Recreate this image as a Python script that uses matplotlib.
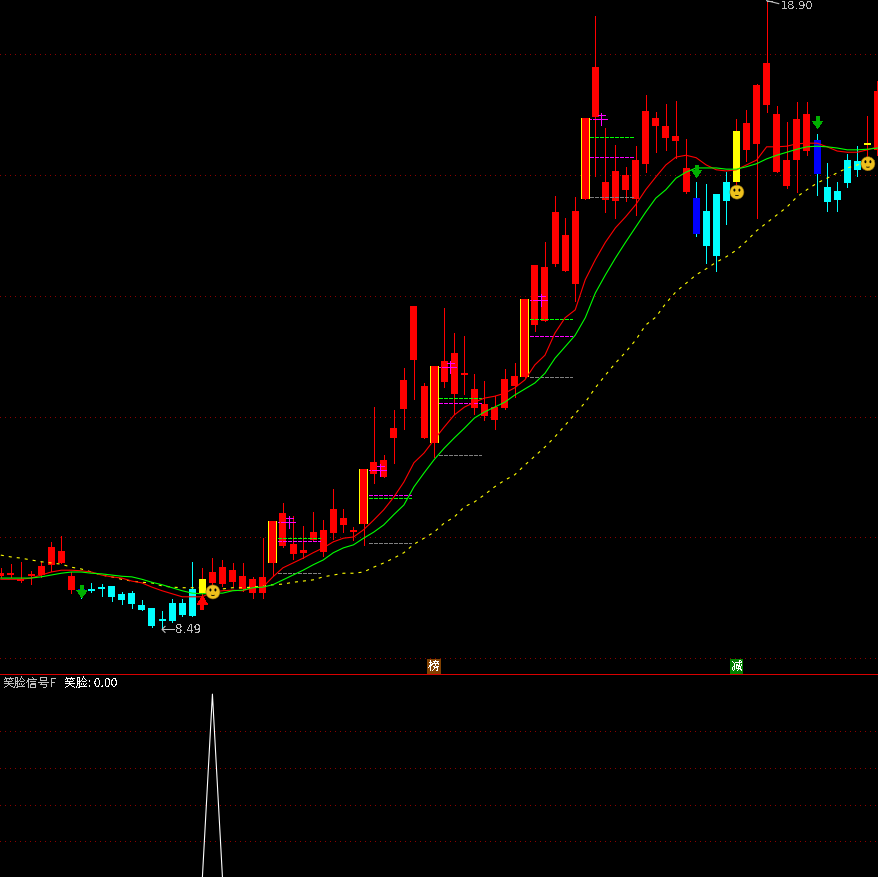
import matplotlib
matplotlib.use("Agg")
import matplotlib.pyplot as plt
from matplotlib.patches import Arc, Ellipse
import numpy as np

plt.rcParams["font.family"] = ["Noto Sans CJK SC", "DejaVu Sans"]
plt.rcParams["text.antialiased"] = False
plt.rcParams["lines.scale_dashes"] = False

# ── Data ───────────────────────────────────────────────────────────────────────

highs = [9.51, 9.57, 9.61, 9.45, 9.61, 9.94, 10.04, 9.44, 9.23, 9.26, 9.24, 9.21,
         9.11, 9.13, 8.98, 8.85, 8.79, 8.99, 8.99, 9.61, 9.51, 9.67, 9.64, 9.59,
         9.59, 9.36, 10.00, 10.29, 10.58, 10.37, 10.20, 10.43, 10.30, 10.81, 10.48, 10.19,
         11.15, 12.17, 11.38, 12.12, 12.82, 13.84, 12.57, 12.85, 13.81, 13.40, 13.35, 12.72,
         12.60, 12.35, 12.80, 12.90, 13.96, 14.52, 14.90, 15.67, 15.30, 15.65, 16.96, 18.65,
         16.79, 16.51, 16.15, 16.49, 17.34, 17.06, 17.19, 17.24, 16.61, 15.90, 15.86, 15.70,
         16.06, 16.94, 17.09, 17.52, 18.90, 17.16, 16.89, 17.22, 17.22, 16.69, 16.21, 15.90,
         16.36, 16.49, 16.99, 17.57]
lows = [9.36, 9.36, 9.27, 9.24, 9.36, 9.46, 9.59, 9.09, 9.01, 9.11, 9.04, 8.96,
        8.91, 8.85, 8.81, 8.53, 8.49, 8.61, 8.71, 8.71, 9.06, 9.14, 9.21, 9.21,
        9.13, 9.01, 9.01, 9.39, 9.85, 9.66, 9.67, 9.97, 9.71, 9.99, 10.10, 9.97,
        9.89, 10.91, 11.01, 11.25, 11.81, 12.31, 11.66, 11.34, 12.50, 12.06, 12.39, 12.06,
        11.96, 11.81, 12.14, 12.34, 12.67, 13.43, 13.60, 14.51, 14.42, 13.93, 15.62, 16.00,
        15.40, 15.30, 15.58, 15.35, 16.06, 16.39, 16.43, 16.30, 15.71, 15.00, 14.56, 14.42,
        15.20, 15.86, 16.25, 15.30, 17.06, 16.06, 15.80, 15.73, 16.34, 15.68, 15.42, 15.42,
        15.81, 16.00, 16.10, 16.34]
body_tops = [9.42, 9.41, 9.32, 9.39, 9.54, 9.85, 9.79, 9.37, 9.16, 9.16, 9.19, 9.21,
             9.08, 9.09, 8.89, 8.85, 8.66, 8.93, 8.93, 9.16, 9.32, 9.44, 9.52, 9.47,
             9.37, 9.32, 9.36, 10.29, 10.42, 9.90, 9.81, 10.10, 10.14, 10.48, 10.33, 10.14,
             11.15, 11.26, 11.30, 11.82, 12.62, 13.84, 12.52, 12.85, 12.93, 13.07, 12.73, 12.47,
             12.22, 12.17, 12.64, 12.69, 13.96, 14.52, 14.49, 15.40, 15.02, 15.42, 16.96, 17.80,
             15.90, 16.08, 16.01, 16.26, 17.07, 16.96, 16.83, 16.66, 16.13, 15.63, 15.42, 15.70,
             15.90, 16.74, 16.87, 17.50, 17.87, 17.02, 16.26, 16.94, 17.02, 16.59, 15.81, 15.75,
             16.26, 16.25, 16.54, 17.40]
body_bottoms = [9.37, 9.39, 9.29, 9.37, 9.39, 9.56, 9.59, 9.14, 9.11, 9.13, 9.16, 9.03,
                8.98, 8.91, 8.81, 8.55, 8.63, 8.63, 8.73, 8.71, 9.09, 9.26, 9.24, 9.27,
                9.16, 9.09, 9.09, 9.59, 9.87, 9.74, 9.76, 9.97, 9.77, 10.09, 10.22, 10.10,
                10.24, 11.06, 11.01, 11.66, 12.14, 12.95, 11.66, 11.58, 12.59, 12.39, 12.70, 12.16,
                12.02, 11.96, 12.16, 12.52, 12.67, 13.53, 13.60, 14.54, 14.42, 14.21, 15.62, 16.97,
                15.60, 15.58, 15.77, 15.62, 16.20, 16.83, 16.63, 16.58, 15.73, 15.04, 14.84, 14.67,
                15.58, 15.90, 16.43, 16.53, 17.17, 16.06, 15.83, 16.26, 16.41, 16.03, 15.57, 15.60,
                15.88, 16.10, 16.51, 16.43]

# r red, c cyan, b blue, y yellow, e red with yellow edges
bar_kinds = list("rrrrrrrrbcccccccccccyrrrrrrerrrrrrrrerrrrrrerrrrrrrrerrrrrerrrrrrrrrrbcccyrrrrrrrbccccyr")

ma_fast = [9.32, 9.32, 9.32, 9.34, 9.39, 9.44, 9.47, 9.47, 9.46, 9.44, 9.39, 9.36,
           9.34, 9.29, 9.26, 9.19, 9.13, 9.08, 9.03, 9.03, 9.03, 9.11, 9.13, 9.14,
           9.13, 9.18, 9.19, 9.36, 9.51, 9.59, 9.67, 9.76, 9.84, 9.94, 10.00, 10.02,
           10.14, 10.30, 10.47, 10.68, 10.93, 11.25, 11.41, 11.63, 11.84, 12.04, 12.17, 12.25,
           12.32, 12.35, 12.40, 12.49, 12.62, 12.87, 13.03, 13.40, 13.65, 13.78, 14.28, 14.61,
           14.90, 15.14, 15.32, 15.52, 15.77, 15.98, 16.18, 16.31, 16.34, 16.30, 16.18, 16.10,
           16.08, 16.10, 16.18, 16.26, 16.48, 16.48, 16.49, 16.53, 16.54, 16.54, 16.48, 16.41,
           16.39, 16.39, 16.43, 16.48]
ma_mid = [9.34, 9.34, 9.34, 9.34, 9.36, 9.39, 9.42, 9.44, 9.44, 9.42, 9.41, 9.39,
          9.37, 9.36, 9.32, 9.27, 9.23, 9.18, 9.13, 9.09, 9.08, 9.09, 9.09, 9.13,
          9.14, 9.18, 9.19, 9.23, 9.31, 9.39, 9.47, 9.56, 9.64, 9.76, 9.84, 9.89,
          10.00, 10.10, 10.22, 10.39, 10.55, 10.85, 11.08, 11.30, 11.49, 11.66, 11.82, 11.99,
          12.09, 12.17, 12.25, 12.37, 12.47, 12.57, 12.73, 12.98, 13.17, 13.36, 13.65, 14.06,
          14.36, 14.64, 14.90, 15.15, 15.40, 15.63, 15.77, 15.96, 16.06, 16.13, 16.13, 16.13,
          16.11, 16.11, 16.15, 16.20, 16.28, 16.34, 16.39, 16.44, 16.48, 16.49, 16.48, 16.46,
          16.43, 16.43, 16.44, 16.46]
ma_slow = [9.72, 9.69, 9.67, 9.64, 9.61, 9.59, 9.57, 9.52, 9.49, 9.44, 9.39, 9.36,
           9.32, 9.29, 9.27, 9.26, 9.21, 9.19, 9.18, 9.18, 9.18, 9.16, 9.16, 9.18,
           9.18, 9.19, 9.21, 9.23, 9.24, 9.27, 9.29, 9.31, 9.36, 9.39, 9.42, 9.42,
           9.44, 9.52, 9.59, 9.67, 9.76, 9.90, 10.00, 10.10, 10.25, 10.35, 10.52, 10.60,
           10.72, 10.85, 10.96, 11.05, 11.21, 11.36, 11.51, 11.68, 11.87, 12.06, 12.25, 12.49,
           12.70, 12.90, 13.08, 13.28, 13.53, 13.66, 13.89, 14.08, 14.22, 14.36, 14.46, 14.57,
           14.66, 14.77, 14.92, 15.09, 15.22, 15.35, 15.48, 15.65, 15.77, 15.88, 15.96, 16.05,
           16.13, 16.18, 16.23, 16.26]

signal_bars = [27, 36, 43, 52, 58]
signal_green = [10.01, 10.67, 12.32, 13.63, 16.64]
signal_magenta = [9.95, 10.71, 12.24, 13.35, 16.31]
signal_gray = [9.42, 9.92, 11.38, 12.67, 15.65]

down_arrow_bars = [8, 69, 81]
down_arrow_tips = [9.02, 15.98, 16.79]
up_arrow_bars = [20]
up_arrow_tips = [9.04]
smile_bars = [21, 73, 86]
smile_prices = [9.11, 15.73, 16.20]
smile_signal = [0.0] * 88
smile_signal[21] = 1.0

low_label = "8.49"
high_label = "18.90"
grid_prices = [8, 10, 12, 14, 16, 18]
grid_signal = [0.2, 0.4, 0.6, 0.8]

# ── Layout ─────────────────────────────────────────────────────────────────────

W, H, SPLIT = 879, 877, 675
BAR_PX = 10.077
PRICE_PX = 60.4
DX = 1 / BAR_PX
DY = 1 / PRICE_PX
LW = 0.5        # straight lines, drawn without antialiasing
LW_CURVE = 0.8  # sloped lines, antialiased (aliased ones come out 2px thick)
GRID = "#8c0000"

RED, CYAN, BLUE, YELLOW = "#ff0000", "#00ffff", "#0000ff", "#ffff00"
SEG_DASH = (0, (2.2, 1.4))


def hline(ax, x0, x1, y, color, style="-", z=3):
    ax.plot([x0, x1], [y, y], color=color, lw=LW, ls=style, antialiased=False, zorder=z)


def draw_candles(ax):
    for i, kind in enumerate(bar_kinds):
        wick = CYAN if kind in "cb" else RED
        ax.vlines(i, lows[i], highs[i], color=wick, lw=LW, antialiased=False, zorder=2)
        top, bottom = body_tops[i], body_bottoms[i]
        height = max(top - bottom, 2 * DY)
        if kind == "e":
            ax.bar(i, height, bottom=bottom, width=9 * DX, color=YELLOW, lw=0,
                   antialiased=False, zorder=2)
            ax.bar(i, height, bottom=bottom, width=7 * DX, color=RED, lw=0,
                   antialiased=False, zorder=2)
        else:
            fill = {"r": RED, "c": CYAN, "b": BLUE, "y": YELLOW}[kind]
            ax.bar(i, height, bottom=bottom, width=7 * DX, color=fill, lw=0,
                   antialiased=False, zorder=2)


def draw_signals(ax):
    for k, green, magenta, gray, top in zip(signal_bars, signal_green, signal_magenta, signal_gray,
                                            [body_tops[b] for b in signal_bars]):
        x0, x1 = k + 5 * DX, k + 4.7
        hline(ax, x0, x1, green, "#00ff00", SEG_DASH)
        hline(ax, x0, x1, magenta, "#ff00ff", SEG_DASH)
        hline(ax, x0, x1, gray, "#808080", SEG_DASH)
        # little magenta cross next to the bar top
        cx, cy = k + 1.6, top - 1.3 * DY
        hline(ax, k + 5 * DX, cx - 6 * DX, cy, "#ff00ff", (0, (1.4, 0.8)), 5)
        hline(ax, cx - 6 * DX, cx + 6 * DX, cy, "#ff00ff", z=5)
        hline(ax, cx - 3 * DX, cx + 4 * DX, cy + 4 * DY, "#ff00ff", z=5)
        ax.vlines(cx, cy - 6 * DY, cy + 6 * DY, color="#ff00ff", lw=LW, antialiased=False, zorder=5)


def draw_arrows(ax):
    for k, tip in zip(down_arrow_bars, down_arrow_tips):
        xs = np.array([0, -5, -1.5, -1.5, 1.5, 1.5, 5]) * DX + k + 0.05
        ys = np.array([0, 7, 7, 12, 12, 7, 7]) * DY + tip
        ax.fill(xs, ys, color="#00b000", lw=0, antialiased=False, zorder=6)
    for k, tip in zip(up_arrow_bars, up_arrow_tips):
        xs = np.array([0, -5, -1.5, -1.5, 1.5, 1.5, 5]) * DX + k
        ys = tip - np.array([0, 8, 8, 13, 13, 8, 8]) * DY
        ax.fill(xs, ys, color="#ff0000", lw=0, antialiased=False, zorder=6)


def draw_smiles(ax):
    for k, price in zip(smile_bars, smile_prices):
        ax.add_patch(Ellipse((k + 0.05, price), 14 * DX, 14 * DY, facecolor="#eec01c",
                             edgecolor="#8a6a10", lw=0.4, zorder=7))
        for side in (-2.5, 2.5):
            ax.add_patch(Ellipse((k + 0.05 + side * DX, price + 2 * DY), 2 * DX, 3 * DY,
                                 facecolor="black", lw=0, zorder=8))
        ax.add_patch(Arc((k + 0.05, price + 0.5 * DY), 8 * DX, 8 * DY, theta1=200, theta2=340,
                         color="black", lw=0.6, zorder=8))


def draw_labels(ax):
    low_i = int(np.argmin(lows))
    high_i = int(np.argmax(highs))
    gray = "#c0c0c0"
    ax.plot([low_i, low_i + 1.2], [lows[low_i], lows[low_i]], color=gray, lw=LW,
            antialiased=False, zorder=6)
    ax.plot([low_i + 3 * DX, low_i, low_i + 3 * DX],
            [lows[low_i] + 3 * DY, lows[low_i], lows[low_i] - 3 * DY], color=gray, lw=LW_CURVE,
            zorder=6)
    ax.text(low_i + 1.3, lows[low_i], low_label, color=gray, fontsize=8.6, va="center",
            family="DejaVu Sans", zorder=6)
    ax.plot([high_i, high_i + 1.2], [highs[high_i], highs[high_i] - 3 * DY], color=gray, lw=LW_CURVE,
            zorder=6)
    ax.plot([high_i, high_i + 0.5], [highs[high_i], highs[high_i]], color=gray, lw=LW,
            antialiased=False, zorder=6)
    ax.text(high_i + 1.4, highs[high_i] - 5.5 * DY, high_label, color=gray, fontsize=8.2, va="center",
            family="DejaVu Sans", zorder=6)


# ── Figure ─────────────────────────────────────────────────────────────────────

fig = plt.figure(figsize=(W / 100, H / 100), dpi=100, facecolor="black")
ax = fig.add_axes([0, (H - SPLIT) / H, 1, SPLIT / H], facecolor="black")
ax2 = fig.add_axes([0, 0, 1, (H - SPLIT) / H], facecolor="black")

xlim = (-0.08, 87.15)
for a in (ax, ax2):
    a.set_xlim(xlim)
    a.set_xticks([])
    a.set_yticks([])
    for spine in a.spines.values():
        spine.set_visible(False)
ax.set_ylim(8 - 16 * DY, 8 + 659 * DY)
ax2.set_ylim(0.006, 1.104)  # keeps the zero baseline just out of view

dots = (0, (0.72, 2.9))
for p in grid_prices:
    ax.axhline(p + 0.8 * DY, color=GRID, lw=LW, ls=dots, antialiased=False, zorder=1)
for v in grid_signal:
    ax2.axhline(v, color=GRID, lw=LW, ls=dots, antialiased=False, zorder=1)

draw_candles(ax)
draw_signals(ax)

bars = np.arange(len(ma_fast))
ax.plot(bars, ma_slow, color="#ffff00", lw=LW_CURVE, ls=(0, (2.2, 3.6)), zorder=4)
ax.plot(bars, ma_fast, color="#ff0000", lw=LW_CURVE, zorder=4)
ax.plot(bars, ma_mid, color="#00ff00", lw=LW_CURVE, zorder=4)

draw_arrows(ax)
draw_smiles(ax)
draw_labels(ax)

for k, text, bg in [(43, "榜", "#804000"), (73, "减", "#008000")]:
    ax.text(k, 7.87, text, color="white", fontsize=8.6, ha="center", va="center", zorder=6,
            bbox=dict(boxstyle="square,pad=0.08", facecolor=bg, edgecolor="none"))

# lower panel
ax.axhline(ax.get_ylim()[0], color="#d80000", lw=1.4, antialiased=False, zorder=9, clip_on=False)
ax2.plot(np.arange(len(smile_signal)), smile_signal, color="white", lw=LW_CURVE, zorder=3)
ax2.text(3 / W, 0.96, "笑脸信号F", color="#c0c0c0", fontsize=8.6, va="center", transform=ax2.transAxes)
ax2.text(64 / W, 0.96, "笑脸: 0.00", color="white", fontsize=8.6, va="center", transform=ax2.transAxes)

fig.savefig("out.png", dpi=100, facecolor="black")
